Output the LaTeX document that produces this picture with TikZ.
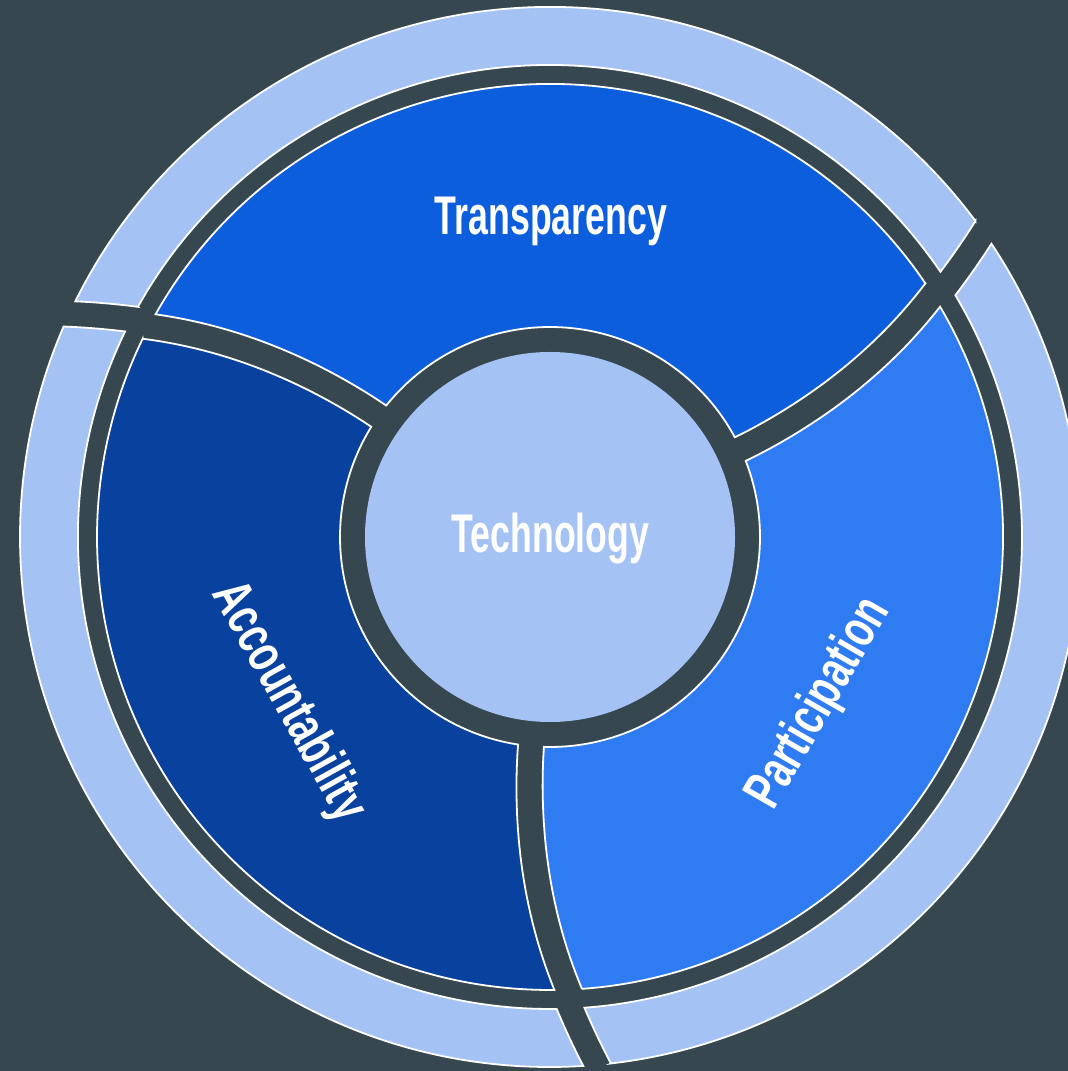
\documentclass[tikz,border=0pt]{standalone}
\usepackage{fontspec}
\newfontfamily\lblfont{Liberation Sans}[FakeStretch=0.655]
\newfontfamily\lblwfont{Liberation Sans}[FakeStretch=0.705]
\definecolor{bg}{HTML}{37474F}
\definecolor{lightb}{HTML}{A4C2F4}
\definecolor{transp}{HTML}{0C5EDD}
\definecolor{partic}{HTML}{2F7BF1}
\definecolor{accnt}{HTML}{08419E}
\tikzset{
  segline/.style={draw=white, line width=1.8pt, line join=miter},
  lbl/.style={text=white, font=\lblfont\bfseries\fontsize{54.5}{60}\selectfont, inner sep=0pt},
  lblw/.style={text=white, font=\lblwfont\bfseries\fontsize{54.5}{60}\selectfont, inner sep=0pt},
}
\newcommand\midseg[4]{%
  \draw[segline, fill=#3] (#4) ++(0,0)
    plot[domain=453:210, samples=30] ({#1+gc(\x)+hw(\x)}:\x)
    arc[start angle={#1+hw(210)}, end angle={#2-hw(210)}, radius=210]
    -- plot[domain=210:453, samples=30] ({#2+gc(\x)-hw(\x)}:\x)
    arc[start angle={#2+7.5-hw(453)}, end angle={#1+7.5+hw(453)}, radius=453]
    -- cycle;}
\newcommand\outseg[2]{%
  \draw[segline, fill=lightb]
    plot[domain=530:472, samples=20] ({#1+go(\x)+hwo(\x)}:\x)
    arc[start angle={#1+7.7+hwo(472)}, end angle={#2+7.7-hwo(472)}, radius=472]
    -- plot[domain=472:530, samples=20] ({#2+go(\x)-hwo(\x)}:\x)
    arc[start angle={#2+10.3-hwo(530)}, end angle={#1+10.3+hwo(530)}, radius=530]
    -- cycle;}
\begin{document}
\begin{tikzpicture}[x=1pt, y=1pt,
  declare function={
    gc(\r)=7.5*((\r-210)/243)*sqrt((\r-210)/243);
    hw(\r)=(13+0.8*((\r-210)/243))*57.2958/\r;
    go(\r)=7.7+2.6*(\r-472)/58;
    hwo(\r)=13.9*57.2958/\r;
  }]
  \fill[bg] (0,0) rectangle (1068,1071);
  \useasboundingbox (0,0) rectangle (1068,1071);
  \clip (0,0) rectangle (1068,1071);
  \begin{scope}[shift={(550,534)}]
    \coordinate (c) at (0,0);
    % outer ring
    \outseg{24.8}{144.8}
    \outseg{144.8}{264.8}
    \outseg{264.8}{384.8}
    % middle segments
    \midseg{24.8}{144.8}{transp}{c}
    \midseg{144.8}{264.8}{accnt}{c}
    \midseg{264.8}{384.8}{partic}{c}
    % centre
    \fill[lightb] (c) circle (185);
    \node[lbl, anchor=base] (tr) at (1,302) {Transparency};
    \node[lbl, anchor=base] (te) at (0.5,-16) {Technology};
    \node[lblw, anchor=base, rotate=-61] (ac) at (-274,-172) {Accountability};
    \node[lblw, anchor=base, rotate=60] (pa) at (282,-174) {Participation};
  \end{scope}
\end{tikzpicture}
\end{document}
